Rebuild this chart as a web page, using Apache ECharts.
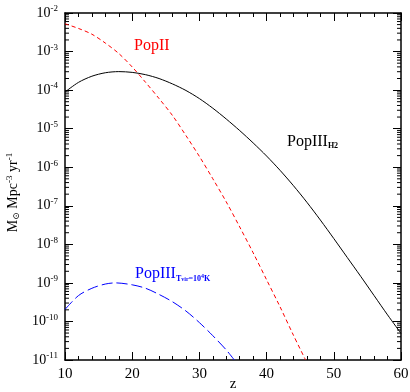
<!DOCTYPE html>
<html><head><meta charset="utf-8">
<script src="https://cdn.jsdelivr.net/npm/echarts@6/dist/echarts.min.js"></script>
<style>html,body{margin:0;padding:0;background:#fff}#c{width:410px;height:392px}</style>
</head><body><div id="c"></div>
<script>
// redshift grid and log10 rates
var zPopII = [10,12,14,16,18,20,22,24,26,28,30,32,34,36,38,40,42,44,45.8];
var logPopII = [-2.28,-2.40,-2.55,-2.78,-3.05,-3.40,-3.80,-4.22,-4.66,-5.18,-5.72,-6.30,-6.90,-7.55,-8.22,-8.92,-9.62,-10.36,-11.0];
var zH2 = [10,12,14,16,18,20,22,24,26,28,30,32,34,36,38,40,42,44,46,48,50,52,54,56,58,60];
var logH2 = [-4.05,-3.80,-3.64,-3.55,-3.52,-3.54,-3.60,-3.70,-3.84,-4.01,-4.22,-4.47,-4.75,-5.05,-5.37,-5.71,-6.08,-6.48,-6.91,-7.37,-7.85,-8.34,-8.83,-9.33,-9.83,-10.31];
var zVir = [10,12,14,16,17.5,20,22,24,26,28,30,32,34,35.2];
var logVir = [-9.69,-9.33,-9.14,-9.03,-9.00,-9.05,-9.14,-9.30,-9.49,-9.73,-10.03,-10.37,-10.74,-11.0];
var xTicks = [10,20,30,40,50,60];
var yDecades = [-11,-10,-9,-8,-7,-6,-5,-4,-3,-2];

function pairs(z, l){ return z.map(function(v,i){ return [v, Math.pow(10, l[i])]; }); }
var minorY = [];
for (var d = yDecades[0]; d < yDecades[yDecades.length-1]; d++) {
  for (var k = 2; k <= 9; k++) minorY.push([10, k*Math.pow(10,d)]);
}
var SERIF = '"Liberation Serif","DejaVu Serif",serif';
var chart = echarts.init(document.getElementById('c'));
var yLab = {
  show: true, fontFamily: SERIF, fontSize: 14, color: '#000', margin: 7,
  formatter: function(v){ return '10{s|' + Math.round(Math.log10(v)) + '}'; },
  rich: { s: { fontSize: 9, fontFamily: SERIF, verticalAlign: 'top', padding: [0,0,8,0], color:'#000' } }
};
var axLine = { show: true, onZero: false, lineStyle: { color: '#000', width: 1.5 } };
function yAx(pos, lab){
  return { type: 'log', logBase: 10, min: 1e-11, max: 1e-2, interval: 1, position: pos,
    axisLine: axLine, axisTick: { show: true, inside: true, length: 8, lineStyle:{color:'#000', width:1} },
    axisLabel: lab ? yLab : { show: false }, splitLine: { show: false },
    name: lab ? 'M{sub|⊙} Mpc{sup|-3} yr{sup|-1}' : '', nameLocation: 'middle', nameGap: 44, nameRotate: 90,
    nameTextStyle: { fontFamily: SERIF, fontSize: 14, color: '#000', padding: [0,12,0,0],
      rich: { sub: { fontSize: 9, fontFamily: SERIF, verticalAlign: 'bottom', padding:[6,0,0,0] },
              sup: { fontSize: 9, fontFamily: SERIF, verticalAlign: 'top', padding:[0,0,7,0] } } } };
}
function xAx(pos, lab){
  return { type: 'value', min: 10, max: 60, interval: 10, position: pos,
    axisLine: axLine, axisTick: { show: true, inside: true, length: 8, lineStyle:{color:'#000', width:1} },
    minorTick: { show: true, splitNumber: 5, length: 4, lineStyle:{color:'#000', width:1} },
    axisLabel: lab ? { show: true, fontFamily: SERIF, fontSize: 15, color: '#000', margin: 7 } : { show: false },
    splitLine: { show: false },
    name: lab ? 'z' : '', nameLocation: 'middle', nameGap: 17, nameMoveOverlap: false,
    nameTextStyle: { fontFamily: SERIF, fontSize: 15, color: '#000' } };
}
chart.setOption({
  animation: false,
  grid: { left: 65, right: 9, top: 13, bottom: 32, containLabel: false, outerBoundsMode: 'none' },
  xAxis: [xAx('bottom', true), xAx('top', false)],
  yAxis: [yAx('left', true), yAx('right', false)],
  series: [
    { type: 'line', data: pairs(zPopII, logPopII), smooth: 0.3, showSymbol: false,
      lineStyle: { color: '#ff0000', width: 1, type: [4,3] } },
    { type: 'line', data: pairs(zH2, logH2), smooth: 0.3, showSymbol: false,
      lineStyle: { color: '#000', width: 1 } },
    { type: 'line', data: pairs(zVir, logVir), smooth: 0.3, showSymbol: false,
      lineStyle: { color: '#0000ff', width: 1, type: [11,4] } },
    { type: 'custom', data: minorY, silent: true, clip: false,
      renderItem: function(params, api){
        var v = api.value(1);
        var a = api.coord([10, v]), b = api.coord([60, v]);
        return { type: 'group', children: [
          { type: 'line', shape: { x1: a[0], y1: a[1], x2: a[0]+4, y2: a[1] }, style: { stroke: '#000', lineWidth: 1 } },
          { type: 'line', shape: { x1: b[0]-4, y1: b[1], x2: b[0], y2: b[1] }, style: { stroke: '#000', lineWidth: 1 } }
        ] };
      } }
  ],
  graphic: [
    { type: 'text', left: 134, top: 38, style: { text: 'PopII', fill: '#ff0000', font: '16px ' + SERIF } },
    { type: 'text', left: 287, top: 134, style: { text: 'PopIII{s|H2}', fill: '#000', font: '16px ' + SERIF,
        rich: { s: { fontSize: 8, fontWeight: 'bold', fontFamily: SERIF, verticalAlign: 'bottom', padding: [8,0,0,0], fill:'#000' } } } },
    { type: 'text', left: 135, top: 266, style: { text: 'PopIII{s|T}{t|vir}{s|=10}{u|4}{s|K}', fill: '#0000ff', font: '16px ' + SERIF,
        rich: { s: { fontSize: 8, fontWeight: 'bold', fontFamily: SERIF, padding: [9,0,0,0], fill:'#0000ff' },
                t: { fontSize: 6, fontWeight: 'bold', fontFamily: SERIF, padding: [11,0,0,0], fill:'#0000ff' },
                u: { fontSize: 6, fontWeight: 'bold', fontFamily: SERIF, padding: [5,0,0,0], fill:'#0000ff' } } } }
  ]
});
</script></body></html>
